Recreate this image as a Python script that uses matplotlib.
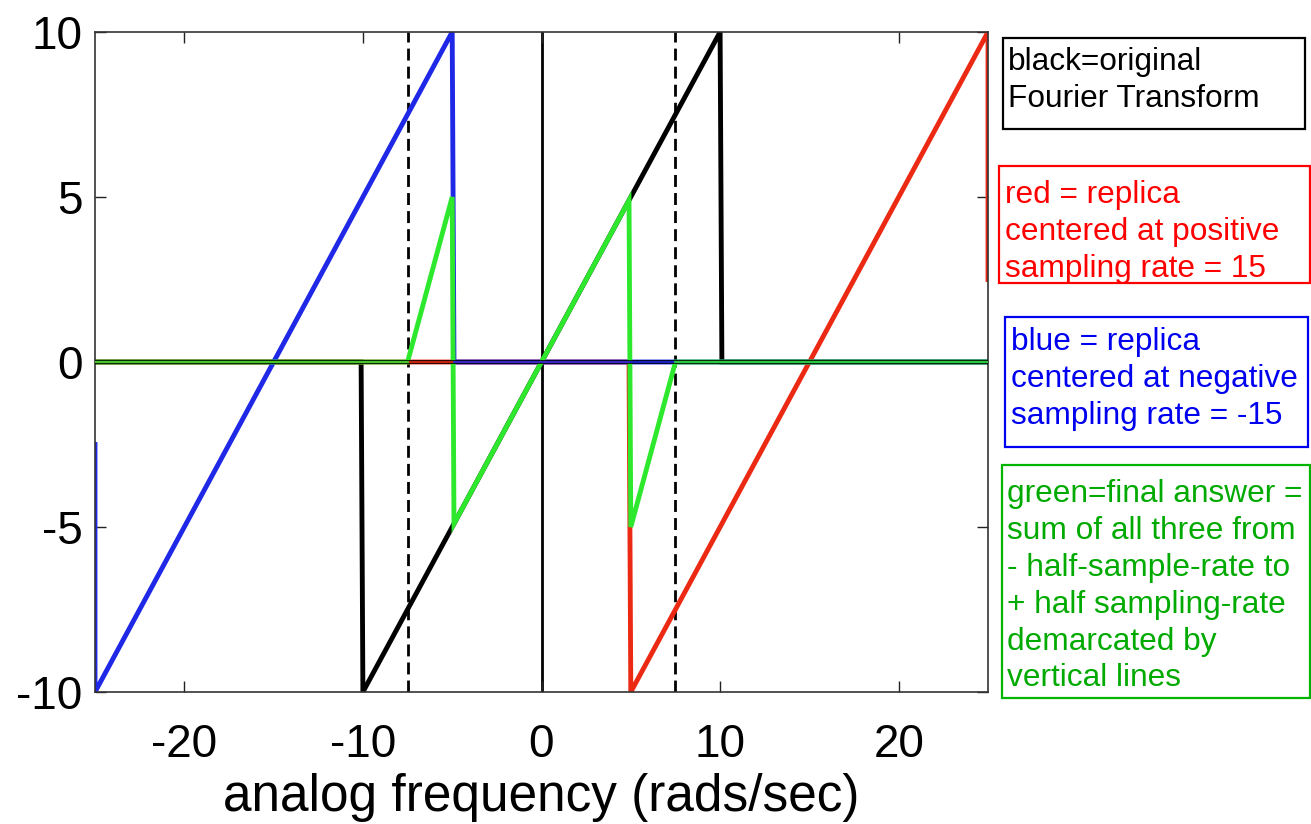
import numpy as np
import matplotlib
matplotlib.use("Agg")
import matplotlib.pyplot as plt
from matplotlib.patches import Rectangle

plt.rcParams['font.family'] = ['Liberation Sans', 'DejaVu Sans']
plt.rcParams['axes.unicode_minus'] = False

# Spectrum breakpoints (frequency in rad/s, amplitude)
orig_freq = [-25, -10.1, -10, 10, 10.1, 25]
orig_mag = [0, 0, -10, 10, 0, 0]

pos_freq = [-25, 4.9, 5, 25, 25]
pos_mag = [0, 0, -10, 10, 2.5]

neg_freq = [-25, -25, -5, -4.9, 25]
neg_mag = [-2.5, -10, 10, 0, 0]

sum_freq = [-25, -7.5, -5, -4.9, 4.9, 5, 7.5, 25]
sum_mag = [0, 0, 5, -4.9, 4.9, -5, 0, 0]

half_rate = 7.5
x_ticks = [-20, -10, 0, 10, 20]
y_ticks = [-10, -5, 0, 5, 10]

notes = [
    ("black=original\nFourier Transform", "#000000", "#000000"),
    ("red = replica\ncentered at positive\nsampling rate = 15", "#ff0000", "#ff0000"),
    ("blue = replica\ncentered at negative\nsampling rate = -15", "#0000f0", "#0000f0"),
    ("green=final answer =\nsum of all three from\n- half-sample-rate to\n+ half sampling-rate\ndemarcated by\nvertical lines", "#00aa00", "#00b400"),
]

W, H = 1311, 824
fig = plt.figure(figsize=(W / 100, H / 100), dpi=100)
ax = fig.add_axes([95 / W, 1 - 692 / H, (988 - 95) / W, (692 - 32) / H])

series = [
    (orig_freq, orig_mag, "#000000"),
    (pos_freq, pos_mag, "#ec2a14"),
    (neg_freq, neg_mag, "#1e28e6"),
    (sum_freq, sum_mag, "#2ee82e"),
]

# vertical reference lines
ax.plot([0, 0], [-10, 10], color="black", lw=2.0, zorder=1)
for xv in (-half_rate, half_rate):
    ax.plot([xv, xv], [-10, 10], color="black", lw=2.0, ls=(0, (4.3, 2.2)), zorder=1)

# thick curves
for f, m, c in series:
    ax.plot(f, m, color=c, lw=3.5, solid_joinstyle="miter", zorder=2)

# zero baseline with the thin colored zero segments on top
ax.plot([-25, 25], [0, 0], color="black", lw=2.6, zorder=3)
for f, m, c in series:
    m = np.asarray(m, dtype=float)
    ax.plot(f, np.where(m == 0, m, np.nan), color=c, lw=1.2, zorder=4)

ax.set_xlim(-25, 25)
ax.set_ylim(-10, 10)
ax.set_xticks(x_ticks)
ax.set_yticks(y_ticks)
ax.tick_params(direction="in", length=8, width=1.0, labelsize=33,
               top=True, right=True, colors="#222222", labelcolor="black")
ax.tick_params(axis="x", pad=22)
ax.tick_params(axis="y", pad=9)
for sp in ax.spines.values():
    sp.set_color("#333333")
    sp.set_linewidth(1.2)
ax.set_xlabel("analog frequency (rads/sec)", fontsize=37, labelpad=5)

# annotation boxes on the right
boxes = [
    (1003, 38, 1305, 129, 1008, 47),
    (999, 166, 1310, 283, 1005, 180),
    (1005, 317, 1308, 447, 1011, 327),
    (1002, 465, 1310, 698, 1007, 479),
]
for (txt, tc, ec), (x0, y0, x1, y1, tx, ty) in zip(notes, boxes):
    fig.patches.append(Rectangle((x0 / W, 1 - y1 / H), (x1 - x0) / W, (y1 - y0) / H,
                                 transform=fig.transFigure, fill=False,
                                 edgecolor=ec, lw=1.6))
    fig.text(tx / W, 1 - ty / H, txt, color=tc, fontsize=22.8, va="top", ha="left",
             linespacing=1.3)

fig.savefig("out.png", dpi=100)
